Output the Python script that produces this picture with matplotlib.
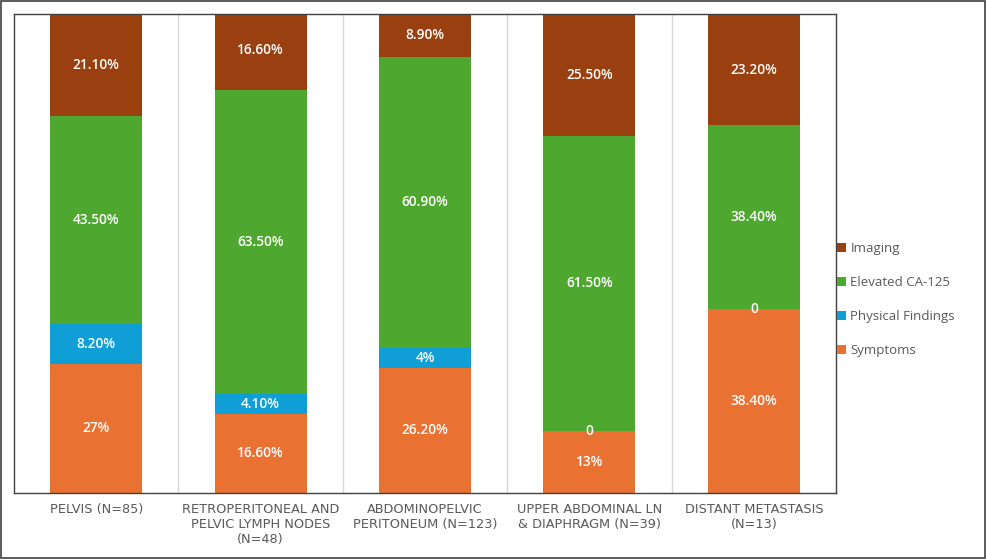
import matplotlib
matplotlib.use("Agg")
import matplotlib.pyplot as plt
from matplotlib.patches import Rectangle
import numpy as np

# Categories along the x axis
categories = [
    "PELVIS (N=85)",
    "RETROPERITONEAL AND\nPELVIC LYMPH NODES\n(N=48)",
    "ABDOMINOPELVIC\nPERITONEUM (N=123)",
    "UPPER ABDOMINAL LN\n& DIAPHRAGM (N=39)",
    "DISTANT METASTASIS\n(N=13)",
]

# Series values (percent), stacked from the bottom up
symptoms = [27.0, 16.6, 26.2, 13.0, 38.4]
physical_findings = [8.2, 4.1, 4.0, 0.0, 0.0]
elevated_ca125 = [43.5, 63.5, 60.9, 61.5, 38.4]
imaging = [21.1, 16.6, 8.9, 25.5, 23.2]

# Data labels as printed on the bars
symptoms_labels = ["27%", "16.60%", "26.20%", "13%", "38.40%"]
physical_labels = ["8.20%", "4.10%", "4%", "0", "0"]
ca125_labels = ["43.50%", "63.50%", "60.90%", "61.50%", "38.40%"]
imaging_labels = ["21.10%", "16.60%", "8.90%", "25.50%", "23.20%"]

plt.rcParams["font.family"] = ["Open Sans", "DejaVu Sans"]

fig = plt.figure(figsize=(9.86, 5.6), dpi=100)
ax = fig.add_axes([0.0142, 0.1196, 0.8337, 0.8554])

x = np.arange(len(categories))
bar_width = 0.56

series = [
    ("Symptoms", symptoms, symptoms_labels, "#E97132"),
    ("Physical Findings", physical_findings, physical_labels, "#0F9ED5"),
    ("Elevated CA-125", elevated_ca125, ca125_labels, "#4EA72E"),
    ("Imaging", imaging, imaging_labels, "#9A3F10"),
]

bottom = np.zeros(len(categories))
handles = []
for name, vals, labels, color in series:
    vals = np.array(vals)
    bars = ax.bar(x, vals, bar_width, bottom=bottom, color=color, label=name, zorder=2)
    handles.append(bars)
    for i, v in enumerate(vals):
        ax.text(x[i], bottom[i] + v / 2, labels[i], ha="center", va="center",
                color="white", fontsize=9.8, fontweight="semibold", zorder=3)
    bottom = bottom + vals

# Vertical separators between categories
for b in np.arange(0.5, len(categories) - 0.5, 1):
    ax.axvline(b, color="#D9D9D9", lw=1, zorder=1)

ax.set_xlim(-0.5, len(categories) - 0.5)
ax.set_ylim(0, 100)
ax.set_yticks([])
ax.set_xticks(x)
ax.set_xticklabels(categories, fontsize=9.3, color="#595959", linespacing=1.2,
                   family=["DejaVu Sans"])
ax.tick_params(axis="x", length=0, pad=7)
for s in ax.spines.values():
    s.set_color("#404040")
    s.set_linewidth(1)

# Legend to the right of the plot box, Imaging on top
leg = fig.legend(handles[::-1], [s[0] for s in series][::-1],
                 loc="center left", bbox_to_anchor=(0.837, 0.465),
                 frameon=False, fontsize=9.5, labelcolor="#595959",
                 handlelength=0.7, handleheight=0.7, handletextpad=0.3,
                 labelspacing=1.6)

# Outer border around the whole figure
fig.patches.append(Rectangle((0.001, 0.004), 0.998, 0.994, transform=fig.transFigure,
                             fill=False, edgecolor="#404040", lw=1.2))

fig.savefig("out.png", dpi=100)
